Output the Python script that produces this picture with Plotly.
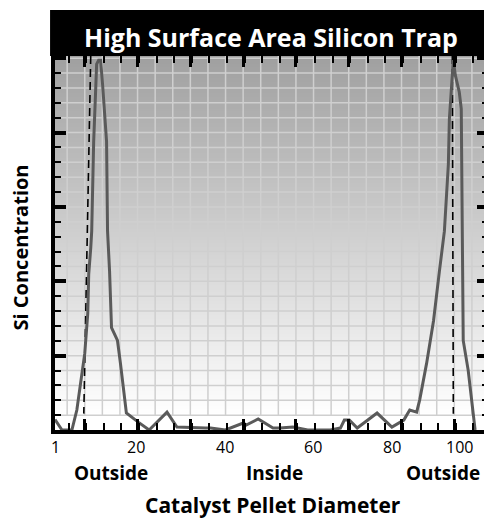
import base64
import struct
import zlib

import numpy as np
import plotly.graph_objects as go

# ---------------- data ----------------
TITLE = "High Surface Area Silicon Trap"
Y_TITLE = "Si Concentration"
X_TITLE = "Catalyst Pellet Diameter"
REGION_LABELS = ["Outside", "Inside", "Outside"]

# position across the pellet diameter
pos = [1.00, 2.70, 3.67, 5.13, 6.34, 7.55, 8.28, 9.01, 9.25, 9.74, 9.98, 10.46,
       10.95, 11.19, 11.68, 12.16, 12.65, 13.13, 13.62, 13.86, 14.35, 14.83,
       16.29, 17.02, 18.47, 21.38, 24.05, 28.42, 30.85, 37.88, 39.10, 42.74,
       44.68, 47.11, 47.83, 50.75, 54.39, 56.08, 59.24, 60.45, 62.88, 65.30,
       68.46, 70.89, 71.86, 73.07, 75.01, 79.87, 83.50, 86.42, 87.87, 89.57,
       90.30, 92.00, 93.70, 95.15, 96.36, 97.33, 97.58, 98.30, 98.55, 99.03,
       100.00, 100.49, 100.60, 100.73, 100.97, 102.19, 102.91, 103.88]
# silicon concentration (relative units)
si = [0.70, 0.00, 0.00, 0.00, 1.34, 3.54, 5.15, 7.82, 10.49, 12.23, 13.37, 19.39,
      22.73, 24.60, 24.87, 24.87, 23.20, 20.92, 19.39, 13.37, 10.70, 6.89,
      6.02, 4.48, 1.14, 0.53, 0.00, 1.20, 0.20, 0.13, 0.13, 0.00,
      0.20, 0.47, 0.33, 0.74, 0.13, 0.13, 0.20, 0.13, 0.00, 0.00,
      0.00, 0.13, 0.67, 0.67, 0.13, 1.14, 0.20, 0.67, 1.34, 1.20,
      2.01, 4.48, 7.35, 10.70, 13.37, 17.85, 20.92, 23.86, 24.87, 23.86,
      22.73, 21.59, 17.85, 11.16, 6.02, 4.01, 2.21, 0.00]

# pellet edge markers (dashed lines): x at top, x at bottom
edge_x_top = [9.74, 98.30]
edge_x_bottom = [8.04, 98.55]
edge_y_top = 25.15
edge_y_bottom = 1.1

# x tick labels and where they sit on the diameter axis
tick_text = ["1", "20", "40", "60", "80", "100"]
tick_pos = [1.0, 20.9, 42.74, 64.09, 83.5, 100.0]

# ---------------- layout constants ----------------
# the page body has an 8 px margin, so the figure is 8 px smaller each way
FIG_W, FIG_H = 484, 512
X_RANGE = [0.99, 107.04]
Y_RANGE = [0, 25.15]
GRID_X0 = 8.28
GRID_DX = 12.93
GRID_BOTTOM = 1.0
GRID_COLOR = "#cfcfcf"
FONT = "Open Sans"


def gradient_png(top, bottom, n=256):
    """Vertical gray gradient, 2 px wide, as a PNG data URI."""
    vals = np.linspace(top, bottom, n).round().astype(np.uint8)
    raw = b"".join(b"\x00" + bytes([v, v]) for v in vals)

    def chunk(tag, data):
        c = tag + data
        return struct.pack(">I", len(data)) + c + struct.pack(">I", zlib.crc32(c) & 0xFFFFFFFF)

    png = (b"\x89PNG\r\n\x1a\n"
           + chunk(b"IHDR", struct.pack(">IIBBBBB", 2, n, 8, 0, 0, 0, 0))
           + chunk(b"IDAT", zlib.compress(raw, 9))
           + chunk(b"IEND", b""))
    return "data:image/png;base64," + base64.b64encode(png).decode()


fig = go.Figure()

# grid (drawn as a trace so it stops at the lowest grid row)
gx, gy = [], []
xg = np.arange(GRID_X0 - GRID_DX / 3, X_RANGE[1], GRID_DX / 3)
for xv in xg:
    if xv > X_RANGE[0]:
        gx += [xv, xv, None]
        gy += [GRID_BOTTOM, Y_RANGE[1], None]
for yv in np.arange(GRID_BOTTOM, Y_RANGE[1], 1.0):
    gx += [X_RANGE[0], X_RANGE[1], None]
    gy += [yv, yv, None]
fig.add_trace(go.Scatter(x=gx, y=gy, mode="lines",
                         line=dict(color=GRID_COLOR, width=1.5),
                         hoverinfo="skip", showlegend=False))

# dashed pellet edge lines
ex, ey = [], []
for xt, xb in zip(edge_x_top, edge_x_bottom):
    ex += [xt, xb, None]
    ey += [edge_y_top, edge_y_bottom, None]
fig.add_trace(go.Scatter(x=ex, y=ey, mode="lines",
                         line=dict(color="black", width=1.6, dash="8px,5px"),
                         hoverinfo="skip", showlegend=False))

# concentration curve
fig.add_trace(go.Scatter(x=pos, y=si, mode="lines",
                         line=dict(color="#5a5a5a", width=3),
                         hoverinfo="skip", showlegend=False))

# gradient background
fig.add_layout_image(source=gradient_png(160, 255), xref="paper", yref="y",
                     x=0, y=Y_RANGE[1], sizex=1, sizey=Y_RANGE[1] - GRID_BOTTOM,
                     sizing="stretch", xanchor="left", yanchor="top",
                     layer="below")

fig.update_layout(
    width=FIG_W, height=FIG_H,
    margin=dict(l=47, r=0, t=48, b=90),
    paper_bgcolor="white", plot_bgcolor="rgba(0,0,0,0)",
    showlegend=False,
    xaxis=dict(range=X_RANGE, tickmode="linear", tick0=GRID_X0, dtick=GRID_DX,
               ticks="inside", ticklen=11, tickwidth=3, tickcolor="black",
               showticklabels=False, showgrid=False,
               minor=dict(dtick=GRID_DX / 3, ticklen=7, tickwidth=2,
                          tickcolor="black", ticks="inside", showgrid=False),
               showline=True, linecolor="black", linewidth=4, mirror="ticks",
               zeroline=False, fixedrange=True),
    yaxis=dict(range=Y_RANGE, tickmode="linear", tick0=0, dtick=5,
               ticks="inside", ticklen=11, tickwidth=3.5, tickcolor="black",
               showticklabels=False, showgrid=False,
               minor=dict(dtick=1, ticklen=6, tickwidth=2, tickcolor="black",
                          ticks="inside", showgrid=False),
               showline=True, linecolor="black", linewidth=4, mirror="ticks",
               zeroline=False, fixedrange=True),
)

# title bar
fig.add_shape(type="rect", xref="paper", yref="paper",
              x0=-0.0114, x1=1.0, y0=1.0, y1=1.123,
              fillcolor="black", line=dict(width=0), layer="above")
fig.add_annotation(text=TITLE, xref="paper", yref="paper", x=0.499, y=1.051,
                   showarrow=False, xanchor="center", yanchor="middle",
                   font=dict(family=FONT, size=25, color="white", weight="bold"))

# x tick labels (placed on the diameter axis)
for lab, xv in zip(tick_text, tick_pos):
    fig.add_annotation(text=lab, xref="x", yref="paper", x=xv, y=-0.045,
                       showarrow=False, xanchor="center", yanchor="middle",
                       font=dict(family=FONT, size=16, color="black"))

# axis titles and region labels
fig.add_annotation(text=Y_TITLE, xref="paper", yref="paper", x=-0.080, y=0.489,
                   textangle=-90, showarrow=False, xanchor="center",
                   yanchor="middle",
                   font=dict(family=FONT, size=20, color="black", weight="bold"))
fig.add_annotation(text=X_TITLE, xref="paper", yref="paper", x=0.503, y=-0.200,
                   showarrow=False, xanchor="center", yanchor="middle",
                   borderpad=0,
                   font=dict(family=FONT, size=21, color="black", weight="bold"))
for lab, xp in zip(REGION_LABELS, [0.130, 0.508, 0.897]):
    fig.add_annotation(text=lab, xref="paper", yref="paper", x=xp, y=-0.115,
                       showarrow=False, xanchor="center", yanchor="middle",
                       font=dict(family=FONT, size=19, color="black",
                                 weight="bold"))

fig.write_html("out.html", config={"displayModeBar": False})
